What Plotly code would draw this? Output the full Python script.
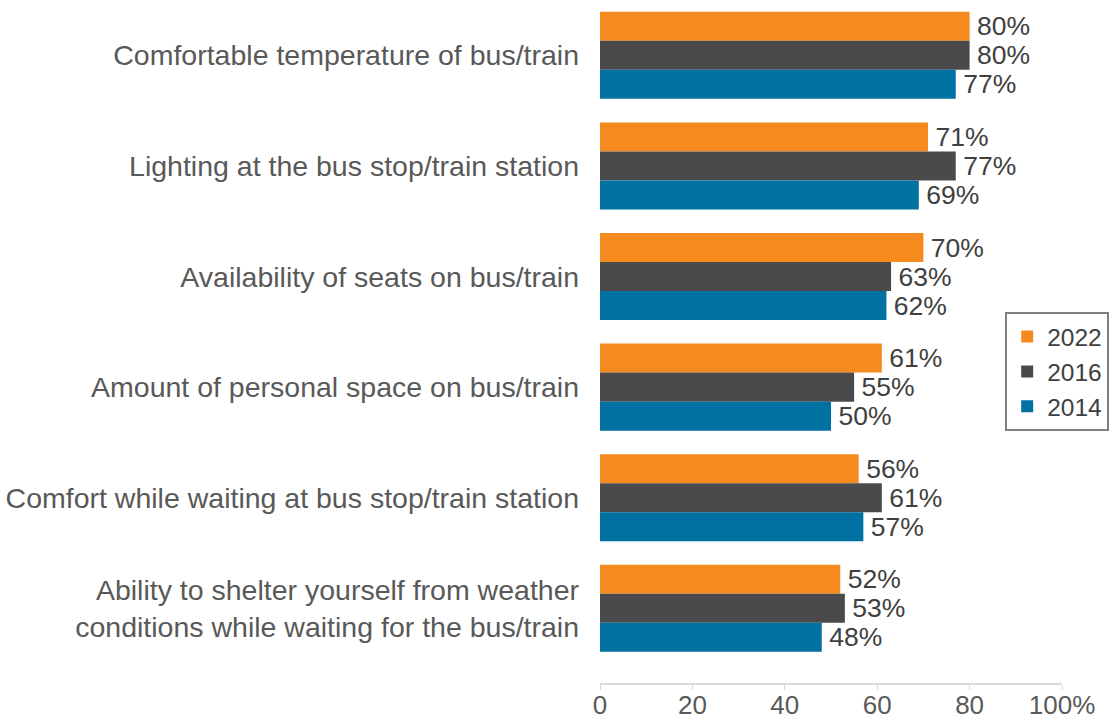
import plotly.graph_objects as go

# Share of respondents satisfied, by aspect and survey year
categories = [
    'Comfortable temperature of bus/train',
    'Lighting at the bus stop/train station',
    'Availability of seats on bus/train',
    'Amount of personal space on bus/train',
    'Comfort while waiting at bus stop/train station',
    'Ability to shelter yourself from weather<br>conditions while waiting for the bus/train',
]
years = ['2022', '2016', '2014']
values_2022 = [80, 71, 70, 61, 56, 52]
values_2016 = [80, 77, 63, 55, 61, 53]
values_2014 = [77, 69, 62, 50, 57, 48]
x_ticks = [0, 20, 40, 60, 80, 100]
x_tick_labels = ['0', '20', '40', '60', '80', '100%']

colors = {'2022': '#F58B1F', '2016': '#4A4A4C', '2014': '#0071A1'}
series = {'2022': values_2022, '2016': values_2016, '2014': values_2014}

FONT = 'Liberation Sans, Arial, sans-serif'

fig = go.Figure()
for yr in years:
    vals = series[yr]
    fig.add_trace(go.Bar(
        y=categories, x=vals, orientation='h', name=yr,
        marker=dict(color=colors[yr], line=dict(width=0)),
        # six-per-em space gives the small gap before the label
        text=[f'\u2006{v}%' for v in vals],
        textposition='outside', constraintext='none', cliponaxis=False,
        textfont=dict(family=FONT, size=26.5, color='#404040'),
    ))

fig.update_layout(
    width=1113, height=719,
    margin=dict(l=600, r=51, t=0, b=36),
    barmode='group', bargap=0.213, bargroupgap=0,
    plot_bgcolor='white', paper_bgcolor='white',
    font=dict(family=FONT, size=25, color='#595959'),
    showlegend=True,
    legend=dict(
        x=0.877, y=0.543, xanchor='left', yanchor='top',
        bordercolor='#808080', borderwidth=2, bgcolor='white',
        font=dict(family=FONT, size=24.5, color='#404040'),
        traceorder='normal', tracegroupgap=0,
    ),
    xaxis=dict(
        range=[0, 100], tickvals=x_ticks, ticktext=x_tick_labels,
        showgrid=False, zeroline=False,
        showline=True, linecolor='#D9D9D9', linewidth=2,
        ticks='outside', ticklen=5, tickcolor='#D9D9D9', tickwidth=1,
        ticklabelstandoff=-7,
        tickfont=dict(family=FONT, size=26, color='#595959'),
        automargin=False, fixedrange=True,
    ),
    yaxis=dict(
        type='category', range=[5.675, -0.5],
        showgrid=False, zeroline=False, showline=False, ticks='',
        ticklabelstandoff=20,
        tickfont=dict(family=FONT, size=28.5, color='#595959'),
        automargin=False, fixedrange=True,
    ),
)

# drop the default 8px page margin so the figure sits at the window's corner
fig.write_html('out.html', config={'displayModeBar': False},
               post_script="document.body.style.margin='0';")
